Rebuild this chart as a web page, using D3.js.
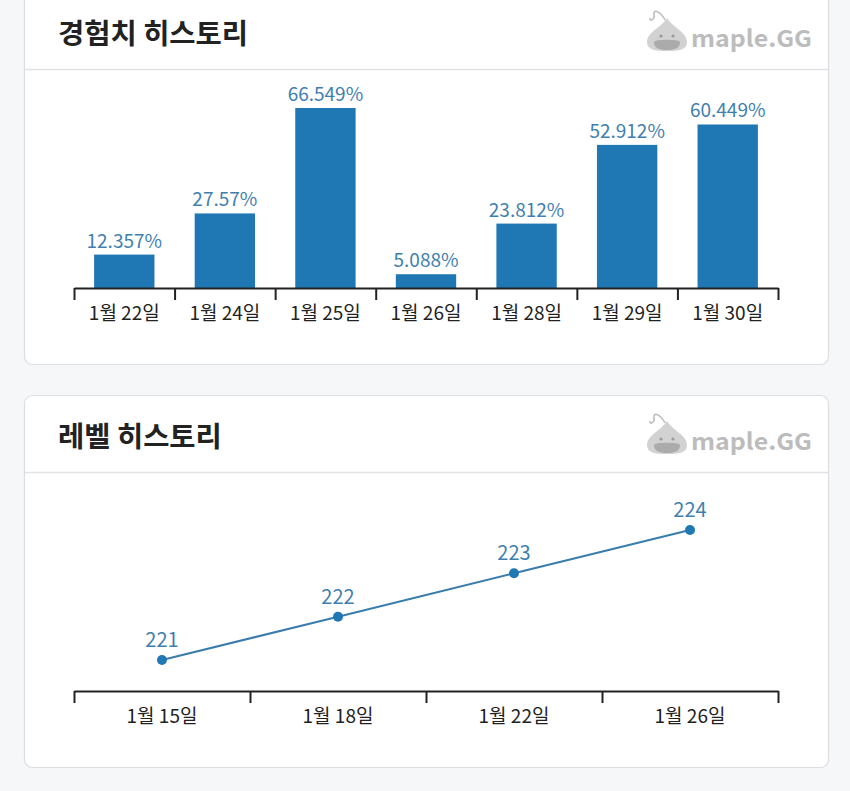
<!DOCTYPE html>
<html>
<head>
<meta charset="utf-8">
<script src="https://cdn.jsdelivr.net/npm/d3@7"></script>
<style>
  html, body { margin: 0; padding: 0; background: #f6f7f9; }
  svg { display: block; }
  text { font-family: "Noto Sans CJK KR", "Noto Sans", sans-serif; }
</style>
</head>
<body>
<svg id="chart" width="850" height="791"></svg>
<script>
// ---- data ----
const expTitle = "경험치 히스토리";
const expDates = ["1월 22일", "1월 24일", "1월 25일", "1월 26일", "1월 28일", "1월 29일", "1월 30일"];
const expValues = [12.357, 27.57, 66.549, 5.088, 23.812, 52.912, 60.449];

const levelTitle = "레벨 히스토리";
const levelDates = ["1월 15일", "1월 18일", "1월 22일", "1월 26일"];
const levelValues = [221, 222, 223, 224];

const logoText = "maple.GG";

// ---- layout ----
const W = 850, H = 791;
const cardX = 24, cardW = 804, cardH = 372;
const cardTops = [-8, 395];
const plotX0 = 74, plotX1 = 778;
const axisOffset = 296;

const svg = d3.select("#chart");
svg.append("rect").attr("width", W).attr("height", H).attr("fill", "#f6f7f9");

function drawCard(top, title) {
  const g = svg.append("g").attr("transform", `translate(0,${top})`);
  g.append("rect")
    .attr("x", cardX + 0.5).attr("y", 0.5)
    .attr("width", cardW).attr("height", cardH)
    .attr("rx", 8).attr("ry", 8)
    .attr("fill", "#ffffff").attr("stroke", "#dcdee2").attr("stroke-width", 1.2);
  g.append("line")
    .attr("x1", cardX + 1).attr("x2", cardX + cardW)
    .attr("y1", 77.5).attr("y2", 77.5)
    .attr("stroke", "#e2e3e6").attr("stroke-width", 1.5);
  g.append("text")
    .attr("x", 58).attr("y", 52)
    .attr("font-size", 28.5).attr("font-weight", 700).attr("fill", "#222")
    .text(title);
  // logo
  const lg = g.append("g").attr("transform", "translate(667,50)");
  lg.append("path")
    .attr("d", "M-2,-22 C-6,-30 -14,-34 -13,-27 C-12,-22 -18,-20 -17,-24")
    .attr("fill", "none").attr("stroke", "#bdbdbd").attr("stroke-width", 1.6);
  lg.append("path")
    .attr("d", "M0,-24 C6,-14 20,-10 20,0 C20,8 12,9 0,9 C-12,9 -20,8 -20,0 C-20,-10 -6,-14 0,-24 Z")
    .attr("fill", "#d2d2d2");
  lg.append("path")
    .attr("d", "M-13,0 C-13,-3 13,-3 13,0 C13,6 8,8 0,8 C-8,8 -13,6 -13,0 Z")
    .attr("fill", "#ababab");
  lg.append("circle").attr("cx", -6).attr("cy", -6).attr("r", 1.6).attr("fill", "#9a9a9a");
  lg.append("circle").attr("cx", 6).attr("cy", -6).attr("r", 1.6).attr("fill", "#9a9a9a");
  g.append("text")
    .attr("x", 691).attr("y", 55)
    .attr("font-size", 23).attr("font-weight", 600).attr("fill", "#bcbcbc")
    .attr("font-family", "'Open Sans', 'DejaVu Sans', sans-serif")
    .attr("textLength", 121).attr("lengthAdjust", "spacingAndGlyphs")
    .text(logoText);
  return g;
}

function drawAxis(g, n, labels) {
  const axisY = axisOffset;
  const tickScale = d3.scaleLinear().domain([0, n]).range([plotX0, plotX1]);
  const labelScale = d3.scaleBand().domain(labels).range([plotX0, plotX1]);
  const ax = g.append("g").attr("transform", `translate(0,${axisY})`)
    .call(d3.axisBottom(tickScale).tickValues(d3.range(n + 1)).tickFormat("").tickSize(12).tickSizeOuter(0));
  ax.selectAll("path, line").attr("stroke", "#222").attr("stroke-width", 2);
  g.append("g").selectAll("text").data(labels).join("text")
    .attr("x", d => labelScale(d) + labelScale.bandwidth() / 2)
    .attr("y", axisY + 32)
    .attr("text-anchor", "middle")
    .attr("font-size", 19).attr("fill", "#222")
    .text(d => d);
}

// ---- Card 1: bar chart ----
const g1 = drawCard(cardTops[0], expTitle);
const xb = d3.scaleBand().domain(expDates).range([plotX0, plotX1]).paddingInner(0.4).paddingOuter(0.2);
const yb = d3.scaleLinear().domain([0, d3.max(expValues)]).range([axisOffset, axisOffset - 180]);
const barData = expDates.map((d, i) => ({ date: d, v: expValues[i] }));
g1.append("g").selectAll("rect").data(barData).join("rect")
  .attr("x", d => xb(d.date))
  .attr("width", xb.bandwidth())
  .attr("y", d => yb(d.v))
  .attr("height", d => yb(0) - yb(d.v))
  .attr("fill", "#1f77b4");
g1.append("g").selectAll("text").data(barData).join("text")
  .attr("x", d => xb(d.date) + xb.bandwidth() / 2)
  .attr("y", d => yb(d.v) - 7)
  .attr("text-anchor", "middle")
  .attr("font-size", 19).attr("fill", "#3f7fae")
  .text(d => d.v + "%");
drawAxis(g1, expDates.length, expDates);

// ---- Card 2: line chart ----
const g2 = drawCard(cardTops[1], levelTitle);
const xl = d3.scaleBand().domain(levelDates).range([plotX0, plotX1]);
const yl = d3.scaleLinear().domain(d3.extent(levelValues)).range([axisOffset - 31, axisOffset - 161]);
const lineData = levelDates.map((d, i) => ({ date: d, v: levelValues[i] }));
const lx = d => xl(d.date) + xl.bandwidth() / 2;
g2.append("path")
  .datum(lineData)
  .attr("d", d3.line().x(lx).y(d => yl(d.v)))
  .attr("fill", "none").attr("stroke", "#3a7cab").attr("stroke-width", 2);
g2.append("g").selectAll("circle").data(lineData).join("circle")
  .attr("cx", lx).attr("cy", d => yl(d.v)).attr("r", 5)
  .attr("fill", "#1f77b4");
g2.append("g").selectAll("text").data(lineData).join("text")
  .attr("x", lx).attr("y", d => yl(d.v) - 13)
  .attr("text-anchor", "middle")
  .attr("font-size", 20).attr("fill", "#3f7fae")
  .text(d => d.v);
drawAxis(g2, levelDates.length, levelDates);
</script>
</body>
</html>
